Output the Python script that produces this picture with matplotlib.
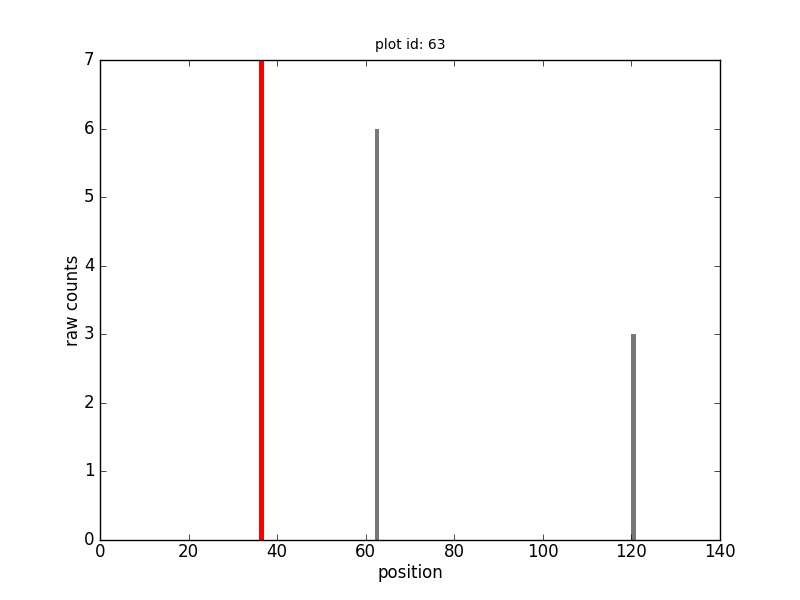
import matplotlib
matplotlib.use('Agg')
import matplotlib.pyplot as plt

plt.style.use('classic')

# bar left edges and heights
positions = [36, 62, 120]
counts = [7, 6, 3]
colors = ['red', '#777777', '#777777']

fig = plt.figure(figsize=(8, 6), dpi=100)
ax = fig.add_subplot(111)
ax.bar(positions, counts, width=1.0, align='edge', color=colors, linewidth=0)
ax.set_xlim(0, 140)
ax.set_ylim(0, 7)
ax.tick_params(axis='x', pad=2)
ax.set_xlabel('position', labelpad=2.5)
ax.set_ylabel('raw counts', labelpad=1.5)
ax.set_title('plot id: 63', fontsize=10, pad=8)

fig.savefig('out.png', dpi=100)
